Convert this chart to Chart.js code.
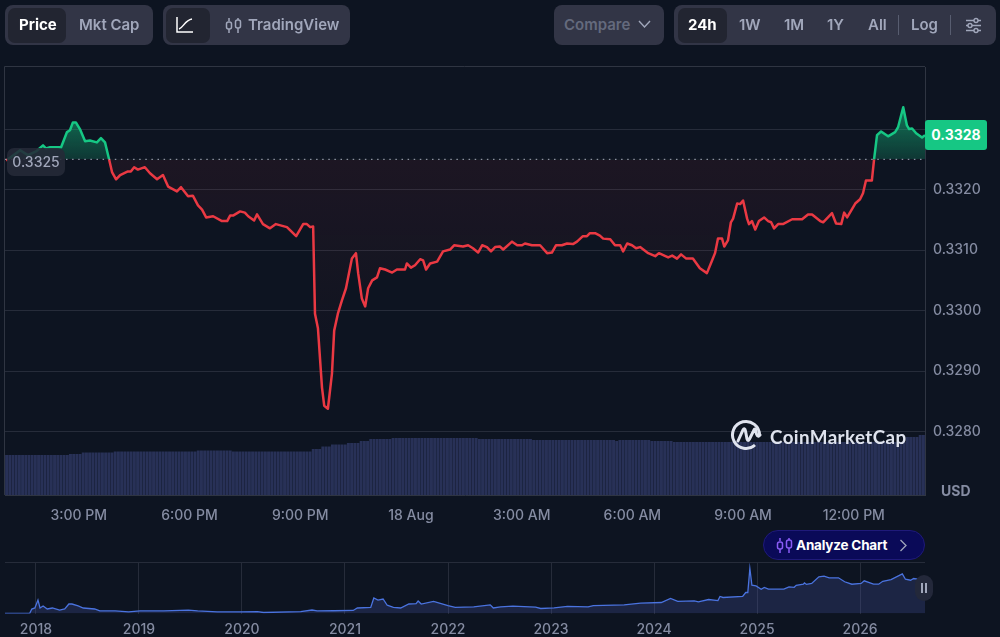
<!DOCTYPE html>
<html>
<head>
<meta charset="utf-8">
<title>Price chart</title>
<script src="https://cdn.jsdelivr.net/npm/chart.js@4/dist/chart.umd.min.js"></script>
<style>
  html, body { margin: 0; padding: 0; background: #0d1421; overflow: hidden; }
  #page { position: relative; width: 1000px; height: 637px; font-family: Inter, sans-serif; font-size: 14px; font-weight: 600; color: #a1a7bb; }
  canvas { position: absolute; left: 0; }
  #mainChart { top: 0; }
  #navChart { top: 555px; }
  .box { position: absolute; background: #323546; border-radius: 8px; height: 40px; top: 5px; }
  .on { position: absolute; background: #222531; border-radius: 7px; height: 35px; top: 8px; }
  .t { position: absolute; top: 5px; line-height: 40px; white-space: nowrap; font-size: 15px; }
  .sep { position: absolute; top: 15px; height: 20px; width: 1px; background: #585d70; }
  svg { position: absolute; }
</style>
</head>
<body>
<div id="page">
  <canvas id="mainChart" width="1000" height="530"></canvas>
  <canvas id="navChart" width="1000" height="82"></canvas>

  <!-- barra superior -->
  <div class="box" style="left:5px;width:148px"></div>
  <div class="on" style="left:8px;width:58px"></div>
  <span class="t" style="left:19px;color:#fff;font-weight:700">Price</span>
  <span class="t" style="left:79px">Mkt Cap</span>

  <div class="box" style="left:163px;width:187px"></div>
  <div class="on" style="left:166px;width:44px"></div>
  <svg style="left:176px;top:16px" width="18" height="18" fill="none" stroke="#fff" stroke-width="1.5"><path d="M1 1V16H17M3 13C7 12 9 4 16 3"/></svg>
  <svg style="left:225px;top:17px" width="17" height="17" fill="none" stroke="#a1a7bb" stroke-width="1.5"><path d="M4 1V4M4 12V16M13 1V3M13 11V16"/><rect x="1.5" y="5" width="5" height="7" rx="2"/><rect x="10.5" y="3" width="5" height="8" rx="2"/></svg>
  <span class="t" style="left:248px">TradingView</span>

  <div class="box" style="left:554px;width:110px"></div>
  <span class="t" style="left:564px;color:#646a7d">Compare</span>
  <svg style="left:638px;top:20px" width="13" height="9" fill="none" stroke="#a1a7bb" stroke-width="1.4"><path d="M1 1L6.5 7L12 1"/></svg>

  <div class="box" style="left:674px;width:322px"></div>
  <div class="on" style="left:678px;width:49px"></div>
  <span class="t" style="left:688px;color:#fff;font-weight:700">24h</span>
  <span class="t" style="left:739px">1W</span>
  <span class="t" style="left:784px">1M</span>
  <span class="t" style="left:827px">1Y</span>
  <span class="t" style="left:868px">All</span>
  <div class="sep" style="left:898px"></div>
  <span class="t" style="left:911px">Log</span>
  <div class="sep" style="left:950px"></div>
  <svg style="left:965px;top:17px" width="17" height="17" fill="none" stroke="#a1a7bb" stroke-width="1.4"><path d="M1 3.5H16M1 8.5H16M1 13.5H16"/><circle cx="11" cy="3.5" r="2" fill="#323546"/><circle cx="5" cy="8.5" r="2" fill="#323546"/><circle cx="11" cy="13.5" r="2" fill="#323546"/></svg>

  <!-- etiquetas de precio -->
  <div style="position:absolute;left:7px;top:148px;width:58px;height:28px;line-height:28px;text-align:center;border-radius:7px;background:rgba(38,42,56,.88);color:#a1a7bb;font-weight:500">0.3325</div>
  <div style="position:absolute;left:925px;top:120px;width:62px;height:30px;line-height:30px;text-align:center;border-radius:3px;background:#16c784;color:#fff;font-weight:700">0.3328</div>
  <span style="position:absolute;left:941px;top:482px;color:#858ca2;font-weight:700">USD</span>

  <!-- marca de agua -->
  <svg style="left:730px;top:419px" width="32" height="32" fill="none" stroke="#dfe3ee" stroke-width="3"><path d="M25 26A13.5 13.5 0 1 1 29.5 16"/><path d="M8 22L13 11C14 9 15 9.500 15.500 12L17 20C17.500 22 18.500 22 19.500 20L24 11C25 9 26 10 26 12C26 16 28 19 30 16" stroke-linecap="round"/></svg>
  <span style="position:absolute;left:770px;top:425px;color:#dfe3ee;font-family:Lato,sans-serif;font-weight:700;font-size:18.8px;letter-spacing:.4px">CoinMarketCap</span>

  <!-- boton analizar -->
  <div style="position:absolute;left:763px;top:530px;width:160px;height:28px;border:1px solid #1f1a7a;border-radius:15px;background:#0a0a58"></div>
  <svg style="left:776px;top:537px" width="17" height="17" fill="none" stroke="#8a5cf6" stroke-width="1.5"><path d="M4 1V4M4 12V16M13 1V3M13 11V16"/><rect x="1.500" y="5" width="5" height="7" rx="2"/><rect x="10.500" y="3" width="5" height="8" rx="2"/></svg>
  <span style="position:absolute;left:796px;top:537px;color:#fff;font-weight:700;font-size:13.5px;letter-spacing:-.2px">Analyze Chart</span>
  <svg style="left:899px;top:539px" width="9" height="13" fill="none" stroke="#a1a7bb" stroke-width="1.3"><path d="M1.500 1L7 6.500L1.500 12"/></svg>

  <!-- control del navegador -->
  <div style="position:absolute;left:915px;top:575px;width:18px;height:26px;border-radius:9px;background:#23283a"></div>
  <div style="position:absolute;left:921px;top:583px;width:2px;height:10px;background:#a1a7bb"></div>
  <div style="position:absolute;left:925px;top:583px;width:2px;height:10px;background:#a1a7bb"></div>
</div>

<script>
// Precio de las ultimas 24h (horas desde 00:00 del 17 Aug)
const priceHours = [
  13.03,13.08,13.41,13.62,13.84,14.03,14.11,14.22,14.41,14.52,14.68,14.76,14.84,14.92,15.03,15.17,15.30,15.49,15.60,15.71,
  15.82,15.90,16.01,16.12,16.33,16.41,16.50,16.60,16.79,16.93,17.12,17.28,17.42,17.66,17.77,17.96,18.09,18.23,18.34,18.45,
  18.64,18.88,19.02,19.10,19.18,19.37,19.50,19.59,19.75,19.83,19.99,20.18,20.34,20.64,20.89,21.08,21.18,21.27,21.35,21.40,
  21.48,21.59,21.65,21.75,21.86,21.92,22.02,22.13,22.24,22.40,22.51,22.57,22.67,22.76,22.84,22.95,23.08,23.16,23.30,23.49,
  23.62,23.84,23.89,24.00,24.11,24.25,24.33,24.41,24.52,24.71,24.87,25.06,25.17,25.41,25.55,25.68,25.82,25.93,26.06,26.17,
  26.28,26.41,26.50,26.74,26.88,27.01,27.09,27.28,27.50,27.69,27.82,27.93,28.09,28.23,28.39,28.50,28.66,28.77,28.85,28.99,
  29.12,29.21,29.40,29.53,29.67,29.75,29.86,29.99,30.10,30.21,30.43,30.62,30.72,30.97,31.08,31.21,31.32,31.46,31.64,31.83,
  32.02,32.16,32.24,32.32,32.43,32.49,32.59,32.67,32.73,32.84,32.92,33.00,33.11,33.16,33.24,33.33,33.43,33.57,33.68,33.76,
  33.84,33.95,34.08,34.33,34.60,34.76,34.87,35.09,35.17,35.41,35.52,35.66,35.74,35.82,36.04,36.17,36.25,36.33,36.49,36.55,
  36.63,36.74,36.93,37.12,37.20,37.34,37.44,37.50,37.58,37.69,37.85,37.93
];
const prices = [
  .33248,.33250,.33265,.33257,.33263,.33273,.33268,.33270,.33270,.33270,.33295,.33298,.33311,.33311,.33300,.33280,.33281,.33278,.33285,.33278,
  .33250,.33229,.33217,.33224,.33230,.33230,.33237,.33233,.33237,.33227,.33217,.33224,.33205,.33197,.33204,.33189,.33190,.33174,.33167,.33154,
  .33156,.33148,.33148,.33157,.33157,.33164,.33162,.33156,.33149,.33159,.33143,.33136,.33143,.33138,.33123,.33143,.33143,.33138,.33139,.32995,
  .32971,.32873,.32843,.32838,.32896,.32967,.32995,.33017,.33037,.33086,.33095,.33062,.33020,.33007,.33037,.33050,.33055,.33070,.33068,.33063,
  .33068,.33068,.33078,.33071,.33075,.33085,.33083,.33068,.33078,.33081,.33098,.33101,.33108,.33106,.33108,.33103,.33096,.33108,.33105,.33098,
  .33105,.33106,.33101,.33114,.33108,.33108,.33111,.33108,.33108,.33095,.33096,.33108,.33108,.33111,.33110,.33114,.33123,.33123,.33128,.33128,
  .33124,.33119,.33118,.33108,.33108,.33098,.33111,.33108,.33103,.33105,.33095,.33090,.33095,.33088,.33091,.33086,.33093,.33086,.33086,.33070,
  .33062,.33083,.33095,.33119,.33119,.33106,.33116,.33146,.33152,.33177,.33176,.33182,.33152,.33143,.33148,.33134,.33148,.33154,.33148,.33146,
  .33136,.33143,.33143,.33151,.33151,.33159,.33159,.33148,.33146,.33161,.33144,.33143,.33162,.33154,.33177,.33184,.33194,.33215,.33215,.33250,
  .33290,.33296,.33288,.33295,.33303,.33336,.33306,.33300,.33301,.33293,.33286,.33290
];
const basePrice = 0.3325;

// Volumen en millones, una barra por intervalo
const volumes = [
  40,40,40,40,40,40,40,40,40,40,40,40,40,40,40,40,40,40,40,40,41,41,41,41,
  42.5,42.5,42.5,42.5,42.5,42.5,42.5,42.5,42.5,42.5,
  43.5,43.5,43.5,43.5,43.5,43.5,43.5,43.5,43.5,43.5,43.5,43.5,43.5,43.5,43.5,43.5,43.5,43.5,43.5,43.5,43.5,43.5,43.5,43.5,43.5,43.5,
  44.5,44.5,44.5,44.5,44.5,44.5,44.5,44.5,44.5,44.5,44.5,
  43.5,43.5,43.5,43.5,43.5,43.5,43.5,43.5,43.5,43.5,43.5,43.5,43.5,43.5,43.5,43.5,43.5,43.5,43.5,43.5,43.5,43.5,43.5,43.5,43.5,
  46,46,46,48.5,48.5,48.5,50.5,50.5,50.5,50.5,50.5,52,52,52,52,54,54,54,56,56,56,56,56,56,56,
  57,57,57,57,57,57,57,57,57,57,57,57,57,57,57,57,57,57,57,57,57,57,57,57,57,57,57,
  56,56,56,56,56,56,56,56,56,56,56,56,56,56,56,56,56,
  55,55,55,55,55,55,55,55,55,55,55,55,55,55,55,55,55,55,55,55,55,55,55,55,55,55,54,
  55,55,55,55,55,55,55,55,55,55,54,54,54,54,54,54,54,
  53,53,53,53,53,53,53,53,53,53,53,53,53,53,53,53,53,53,53,53,53,53,53,53,53,53,53,53,53,53,53,53,53,53,53,53,53,
  53,53,53,53,53,53,53,53,53,53,53,53,53,53,53,53,53,53,53,53,53,53,53,53,53,53,53,53,53,53,53,53,53,53,53,53,
  58,58,58,58,60,60
];

const timeTicks = [15, 18, 21, 24, 27, 30, 33, 36];
const timeLabels = ['3:00 PM', '6:00 PM', '9:00 PM', '18 Aug', '3:00 AM', '6:00 AM', '9:00 AM', '12:00 PM'];
const priceTicks = [0.328, 0.329, 0.33, 0.331, 0.332, 0.333];
const priceLabels = ['0.3280', '0.3290', '0.3300', '0.3310', '0.3320', ''];

// Historico completo para el navegador inferior
const historyYears = [
  2017.70,2017.94,2017.96,2017.99,2018.02,2018.04,2018.07,2018.11,2018.16,2018.23,2018.28,2018.32,2018.35,2018.41,2018.46,2018.57,2018.62,2018.77,2018.90,2019.01,
  2019.24,2019.48,2019.57,2019.76,2019.98,2020.15,2020.21,2020.57,2020.68,2020.73,2020.89,2021.08,2021.12,2021.25,2021.28,2021.32,2021.37,2021.41,2021.47,2021.54,
  2021.62,2021.69,2021.71,2021.74,2021.86,2022.00,2022.07,2022.25,2022.41,2022.44,2022.51,2022.63,2022.85,2022.90,2023.03,2023.16,2023.36,2023.41,2023.71,2023.87,
  2024.07,2024.16,2024.23,2024.39,2024.43,2024.53,2024.62,2024.64,2024.67,2024.86,2024.89,2024.91,2024.93,2024.95,2024.99,2025.04,2025.07,2025.11,2025.26,2025.31,
  2025.36,2025.38,2025.45,2025.46,2025.48,2025.53,2025.60,2025.65,2025.70,2025.79,2025.85,2025.92,2026.01,2026.04,2026.13,2026.18,2026.22,2026.30,2026.41,2026.44,
  2026.49,2026.52,2026.56,2026.63
];
const historyPrices = [
  .002,.002,.044,.054,.132,.054,.074,.044,.054,.034,.044,.093,.093,.074,.054,.044,.025,.025,.015,.025,
  .025,.034,.025,.015,.015,.018,.010,.018,.034,.025,.027,.030,.054,.060,.152,.132,.142,.081,.060,.054,
  .093,.097,.122,.093,.118,.078,.060,.065,.085,.054,.065,.072,.062,.049,.055,.069,.065,.078,.085,.101,
  .108,.147,.118,.124,.114,.137,.127,.167,.157,.167,.206,.206,.441,.277,.270,.238,.255,.238,.238,.260,
  .257,.277,.287,.300,.285,.295,.360,.367,.350,.350,.311,.287,.295,.320,.287,.287,.316,.333,.388,.336,
  .326,.343,.336,.333
];
const yearTicks = [2018, 2019, 2020, 2021, 2022, 2023, 2024, 2025, 2026];

const hourMin = 13, hourMax = 37.93;
const green = '#16c784', red = '#ea3943', gridColor = '#262c3a', tickColor = '#858ca2';
const tickFont = { family: 'Inter', size: 14, weight: '500' };

const mainCanvas = document.getElementById('mainChart');
const mainCtx = mainCanvas.getContext('2d');

const greenFill = mainCtx.createLinearGradient(0, 107, 0, 159);
greenFill.addColorStop(0, 'rgba(22,199,132,0.55)');
greenFill.addColorStop(1, 'rgba(22,199,132,0.2)');
const redFill = mainCtx.createLinearGradient(0, 159, 0, 408);
redFill.addColorStop(0, 'rgba(234,57,67,0.07)');
redFill.addColorStop(1, 'rgba(234,57,67,0)');

// Borde superior e izquierdo del area del grafico
const frame = {
  id: 'frame',
  beforeDatasetsDraw(chart) {
    const { ctx, chartArea: a } = chart;
    ctx.save();
    ctx.strokeStyle = '#2f3542';
    ctx.beginPath();
    ctx.moveTo(a.left - 0.5, a.bottom);
    ctx.lineTo(a.left - 0.5, a.top - 0.5);
    ctx.lineTo(a.right, a.top - 0.5);
    ctx.stroke();
    ctx.restore();
  }
};

new Chart(mainCtx, {
  data: {
    datasets: [
      {
        type: 'line',
        order: 1,
        data: priceHours.map((x, i) => ({ x, y: prices[i] })),
        borderWidth: 2.5,
        borderJoinStyle: 'round',
        pointRadius: 0,
        tension: 0,
        fill: { target: { value: basePrice }, above: greenFill, below: redFill },
        segment: {
          borderColor: c => (c.p0.parsed.y + c.p1.parsed.y) / 2 >= basePrice ? green : red
        }
      },
      {
        type: 'line',
        order: 0,
        data: [{ x: hourMin, y: basePrice }, { x: hourMax, y: basePrice }],
        borderColor: '#a9afbf',
        borderWidth: 1,
        borderDash: [1.5, 4.6],
        pointRadius: 0
      },
      {
        type: 'bar',
        order: 2,
        yAxisID: 'yVol',
        data: volumes.map((v, i) => ({ x: hourMin + (i + 0.5) * (hourMax - hourMin) / volumes.length, y: v })),
        backgroundColor: '#283157',
        categoryPercentage: 1,
        barPercentage: 0.92
      }
    ]
  },
  options: {
    responsive: false,
    animation: false,
    layout: { padding: { left: 5, top: 67, right: 0, bottom: 0 } },
    plugins: { legend: { display: false }, tooltip: { enabled: false } },
    scales: {
      x: {
        type: 'linear',
        offset: false,
        min: hourMin,
        max: hourMax,
        afterBuildTicks: axis => { axis.ticks = timeTicks.map(value => ({ value })); },
        afterFit: axis => { axis.height = 35; },
        grid: { display: false, offset: false },
        border: { color: '#2f3542' },
        ticks: {
          color: tickColor,
          font: tickFont,
          padding: 4,
          maxRotation: 0,
          autoSkip: false,
          callback: v => timeLabels[timeTicks.indexOf(v)]
        }
      },
      y: {
        position: 'right',
        min: 0.326955,
        max: 0.334025,
        afterBuildTicks: axis => { axis.ticks = priceTicks.map(value => ({ value })); },
        afterFit: axis => { axis.width = 75; },
        grid: { color: gridColor, drawTicks: false },
        border: { color: '#2f3542' },
        ticks: {
          color: tickColor,
          font: tickFont,
          padding: 8,
          callback: v => priceLabels[priceTicks.indexOf(v)]
        }
      },
      yVol: { display: false, min: 0, max: 428 }
    }
  },
  plugins: [frame]
});

// Navegador con el historico completo
new Chart(document.getElementById('navChart'), {
  type: 'line',
  data: {
    datasets: [{
      data: historyYears.map((x, i) => ({ x, y: historyPrices[i] })),
      borderColor: '#4a73df',
      borderWidth: 1.3,
      pointRadius: 0,
      tension: 0,
      fill: 'origin',
      backgroundColor: 'rgba(72,90,170,0.26)'
    }]
  },
  options: {
    responsive: false,
    animation: false,
    layout: { padding: { left: 5, top: 8, right: 75, bottom: 0 } },
    plugins: { legend: { display: false }, tooltip: { enabled: false } },
    scales: {
      x: {
        type: 'linear',
        min: 2017.70,
        max: 2026.63,
        afterBuildTicks: axis => { axis.ticks = yearTicks.map(value => ({ value })); },
        afterFit: axis => { axis.height = 23.5; },
        grid: { color: gridColor, drawTicks: false },
        border: { display: false },
        ticks: {
          color: tickColor,
          font: tickFont,
          padding: 8,
          maxRotation: 0,
          autoSkip: false,
          callback: v => String(v)
        }
      },
      y: { display: false, min: 0, max: 0.495 }
    }
  },
  plugins: [{
    id: 'navTop',
    beforeDatasetsDraw(chart) {
      const { ctx, chartArea: a } = chart;
      ctx.save();
      ctx.strokeStyle = gridColor;
      ctx.beginPath();
      ctx.moveTo(a.left, a.top - 0.5);
      ctx.lineTo(a.right, a.top - 0.5);
      ctx.stroke();
      ctx.restore();
    }
  }]
});
</script>
</body>
</html>
